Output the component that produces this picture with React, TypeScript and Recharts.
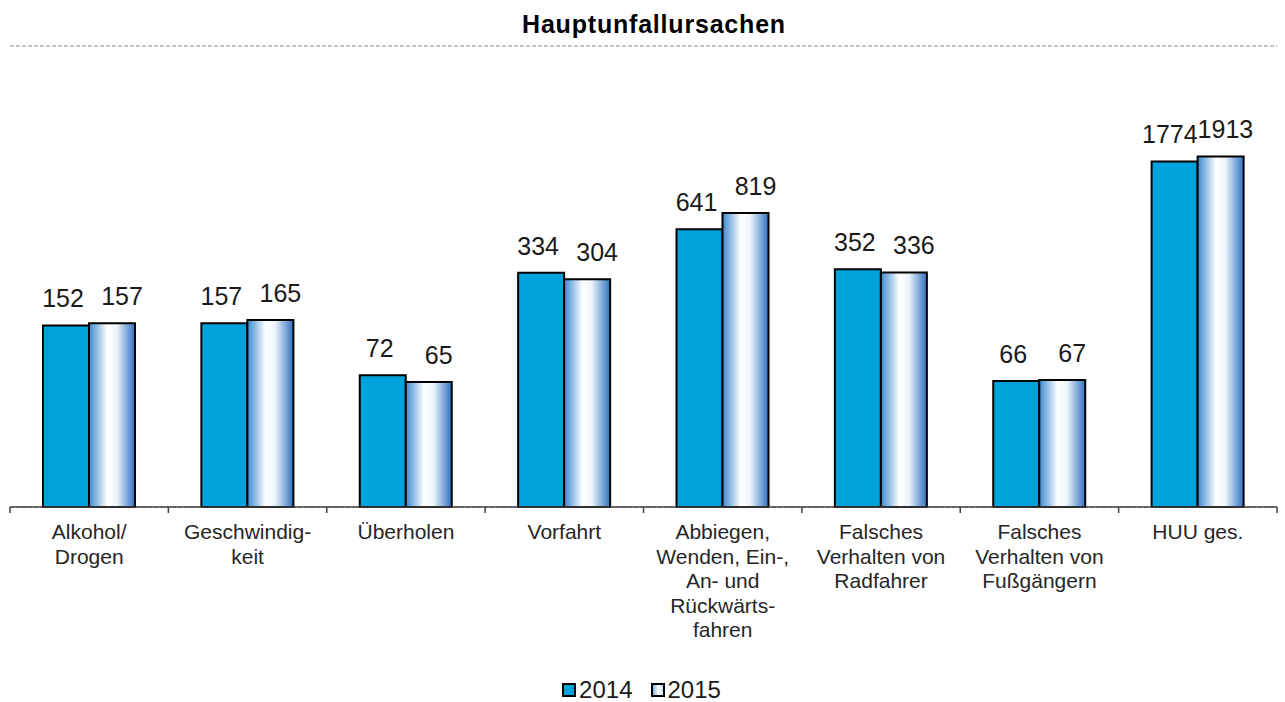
import { BarChart, Bar, XAxis, YAxis, CartesianGrid, Legend, LabelList } from 'recharts';

const categories = [
  'Alkohol/\nDrogen',
  'Geschwindig-\nkeit',
  'Überholen',
  'Vorfahrt',
  'Abbiegen,\nWenden, Ein-,\nAn- und\nRückwärts-\nfahren',
  'Falsches\nVerhalten von\nRadfahrer',
  'Falsches\nVerhalten von\nFußgängern',
  'HUU ges.',
];
const values2014 = [152, 157, 72, 334, 641, 352, 66, 1774];
const values2015 = [157, 165, 65, 304, 819, 336, 67, 1913];
const yTicks = [10, 100, 1000, 10000];

const FONT = '"Liberation Sans", Arial, sans-serif';
const BLUE = '#00a2dc';
const LABEL_SIZE = 25;

const data = categories.map((name, i) => ({ name, y2014: values2014[i], y2015: values2015[i] }));

// category label + tick marks on the category borders
function CategoryTick({ x, y, payload, index, visibleTicksCount }: any) {
  const lines = String(payload.value).split('\n');
  const half = payload.offset ?? 0;
  const isLast = index === visibleTicksCount - 1;
  return (
    <g>
      <line x1={x - half} y1={y} x2={x - half} y2={y + 6} stroke="#404040" strokeWidth={1.5} />
      {isLast && <line x1={x + half} y1={y} x2={x + half} y2={y + 6} stroke="#404040" strokeWidth={1.5} />}
      <text x={x} y={y} textAnchor="middle" fill="#262626" fontSize={21} fontFamily={FONT}>
        {lines.map((line, i) => (
          <tspan key={i} x={x} dy={i === 0 ? 32 : 24.5}>
            {line}
          </tspan>
        ))}
      </text>
    </g>
  );
}

// value label; the original sits 2014 labels a bit left, 2015 a bit right,
// and pushes labels wider than the bar outward
function makeValueLabel(side: number, nudge: number) {
  return function ValueLabel({ x, y, width, value }: any) {
    const textW = String(value).length * 0.556 * LABEL_SIZE;
    const shift = textW > width ? ((textW - width) / 2) * side : nudge;
    return (
      <text x={x + width / 2 + shift} y={y - 18} textAnchor="middle" fontSize={LABEL_SIZE} fill="#1a1a1a" fontFamily={FONT}>
        {value}
      </text>
    );
  };
}

function LegendContent() {
  const items = [
    { label: '2014', fill: BLUE },
    { label: '2015', fill: 'linear-gradient(to right, #7fb6e4, #ffffff 55%, #cfe3f5)' },
  ];
  return (
    <div style={{ display: 'flex', justifyContent: 'center', alignItems: 'center', gap: 18, fontFamily: FONT, fontSize: 24, color: '#1a1a1a', paddingTop: 4, paddingRight: 4 }}>
      {items.map((it) => (
        <div key={it.label} style={{ display: 'flex', alignItems: 'center', gap: 3 }}>
          <span style={{ display: 'inline-block', width: 10, height: 10, border: '2px solid #000', background: it.fill }} />
          <span>{it.label}</span>
        </div>
      ))}
    </div>
  );
}

export default function App() {
  return (
    <div style={{ position: 'absolute', left: 0, top: 0, width: 1285, height: 702, background: '#fff' }}>
      <div
        style={{
          position: 'absolute',
          top: 10,
          left: 0,
          width: 1285,
          paddingLeft: 23,
          boxSizing: 'border-box',
          textAlign: 'center',
          fontFamily: FONT,
          fontWeight: 'bold',
          fontSize: 25,
          letterSpacing: 0.8,
          color: '#000',
        }}
      >
        Hauptunfallursachen
      </div>
      <BarChart
        width={1285}
        height={702}
        data={data}
        margin={{ top: 46, right: 8, left: 10, bottom: 0 }}
        barCategoryGap={33}
        barGap={0}
      >
        <defs>
          <linearGradient id="grad2015" x1="0" y1="0" x2="1" y2="0">
            <stop offset="0%" stopColor="#3a8ad0" />
            <stop offset="40%" stopColor="#ffffff" />
            <stop offset="60%" stopColor="#eef5fc" />
            <stop offset="100%" stopColor="#2f72c0" />
          </linearGradient>
        </defs>
        <CartesianGrid vertical={false} stroke="#8c8c8c" strokeDasharray="4 2" />
        <XAxis
          dataKey="name"
          interval={0}
          height={165}
          tickLine={false}
          axisLine={{ stroke: '#404040', strokeWidth: 1.5 }}
          tickSize={0}
          tickMargin={0}
          tick={<CategoryTick />}
        />
        <YAxis scale="log" domain={[10, 10000]} ticks={yTicks} width={0} tick={false} axisLine={false} tickLine={false} />
        <Legend verticalAlign="bottom" wrapperStyle={{ height: 30, bottom: 0 }} content={<LegendContent />} />
        <Bar dataKey="y2014" name="2014" fill={BLUE} stroke="#000" strokeWidth={2} isAnimationActive={false}>
          <LabelList dataKey="y2014" content={makeValueLabel(-1, -3)} />
        </Bar>
        <Bar dataKey="y2015" name="2015" fill="url(#grad2015)" stroke="#000" strokeWidth={2} isAnimationActive={false}>
          <LabelList dataKey="y2015" content={makeValueLabel(1, 10)} />
        </Bar>
      </BarChart>
    </div>
  );
}
